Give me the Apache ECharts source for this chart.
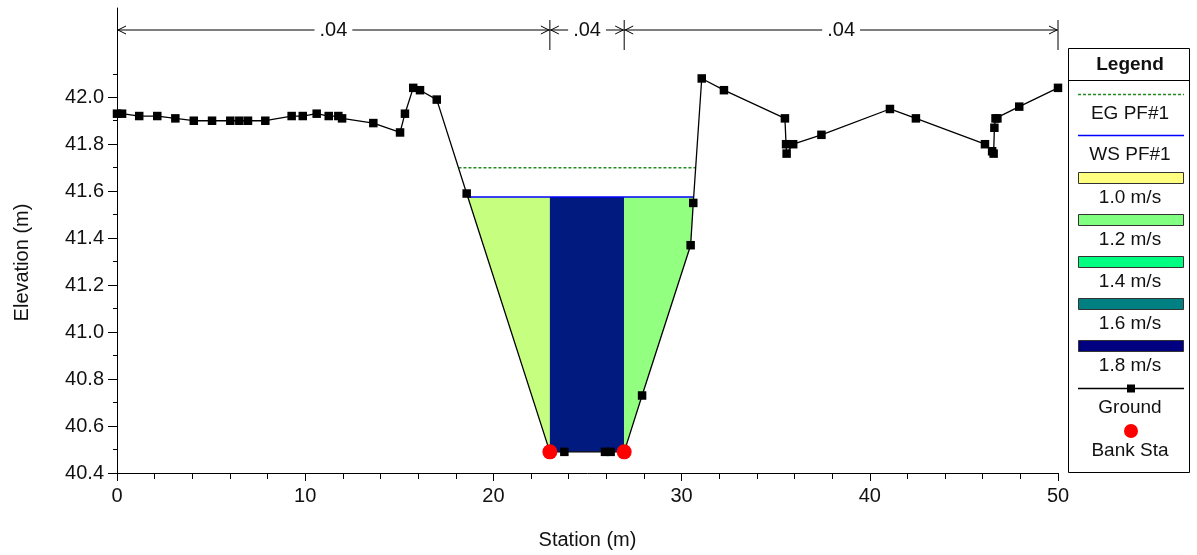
<!DOCTYPE html>
<html>
<head>
<meta charset="utf-8">
<title>Cross Section</title>
<script src="https://cdn.jsdelivr.net/npm/echarts@6/dist/echarts.min.js"></script>
<style>
    html, body {margin: 0; padding: 0; background: #fff;}
    #chart {width: 1197px; height: 555px;}
</style>
</head>
<body>
<div id="chart"></div>
<script>
// ground survey points (station m / elevation m)
var groundX = [0, 0.27, 1.18, 2.14, 3.10, 4.08, 5.05, 6.02, 6.50, 6.96, 7.88, 9.28, 9.87, 10.61, 11.25, 11.76, 11.96,
    13.62, 15.04, 15.30, 15.74, 16.10, 16.99, 18.58, 23.00, 23.77, 25.93, 26.23, 26.95, 27.90, 30.48, 30.62,
    31.07, 32.25, 35.49, 35.55, 35.58, 35.93, 37.43, 41.07, 42.45, 46.12, 46.50, 46.58, 46.62, 46.68, 46.78,
    47.94, 50.00];
var groundY = [41.93, 41.93, 41.92, 41.92, 41.91, 41.90, 41.90, 41.90, 41.90, 41.90, 41.90, 41.92, 41.92, 41.93, 41.92, 41.92, 41.91,
    41.89, 41.85, 41.93, 42.04, 42.03, 41.99, 41.59, 40.49, 40.49, 40.49, 40.49, 40.49, 40.73, 41.37, 41.55,
    42.08, 42.03, 41.91, 41.80, 41.76, 41.80, 41.84, 41.95, 41.91, 41.80, 41.77, 41.76, 41.87, 41.91, 41.91,
    41.96, 42.04];
var bankSta = [23.00, 26.95];
// manning's n change stations and values
var nStations = [0, 23.00, 26.95, 50];
var nValues = ['.04', '.04', '.04'];
var wsElev = 41.575;
var egElev = 41.70;
// mean velocity of each subsection (left overbank, channel, right overbank)
var subVelocity = [1.09, 1.76, 1.17];
var velStops = [1.0, 1.2, 1.4, 1.6, 1.8];
var velLabels = ['1.0 m/s', '1.2 m/s', '1.4 m/s', '1.6 m/s', '1.8 m/s'];
var velColors = ['#ffff80', '#80ff80', '#00ff80', '#008080', '#000080'];
var yMajorTicks = [40.4, 40.6, 40.8, 41.0, 41.2, 41.4, 41.6, 41.8, 42.0];
var yMinorTicks = [40.5, 40.7, 40.9, 41.1, 41.3, 41.5, 41.7, 41.9, 42.1];

var font = "'Liberation Sans', Arial, Helvetica, sans-serif";
var egColor = '#228b22';
var wsColor = '#0000ff';

function groundAt(x) {
    for (var i = 1; i < groundX.length; i++) {
        if (x <= groundX[i]) {
            var t = (x - groundX[i - 1]) / (groundX[i] - groundX[i - 1]);
            return groundY[i - 1] + t * (groundY[i] - groundY[i - 1]);
        }
    }
    return groundY[groundY.length - 1];
}

//水面与地面的交点
function waterExtent(level) {
    var imin = 0;
    for (var i = 1; i < groundY.length; i++) {
        if (groundY[i] < groundY[imin]) imin = i;
    }
    var l = imin, r = imin;
    while (l > 0 && groundY[l - 1] <= level) l--;
    while (r < groundY.length - 1 && groundY[r + 1] <= level) r++;
    var xl = groundX[l], xr = groundX[r];
    if (l > 0) {
        xl = groundX[l - 1] + (level - groundY[l - 1]) / (groundY[l] - groundY[l - 1]) * (groundX[l] - groundX[l - 1]);
    }
    if (r < groundY.length - 1) {
        xr = groundX[r] + (level - groundY[r]) / (groundY[r + 1] - groundY[r]) * (groundX[r + 1] - groundX[r]);
    }
    return [xl, xr];
}

// wet area of a subsection below the water surface
function wetPolygon(a, b, level) {
    var pts = [[a, groundAt(a)]];
    for (var i = 0; i < groundX.length; i++) {
        if (groundX[i] > a && groundX[i] < b) pts.push([groundX[i], groundY[i]]);
    }
    pts.push([b, groundAt(b)]);
    var bottom = [];
    for (var j = 0; j < pts.length; j++) {
        var p = pts[j];
        if (j > 0) {
            var q = pts[j - 1];
            if ((q[1] - level) * (p[1] - level) < 0) {
                var t = (level - q[1]) / (p[1] - q[1]);
                bottom.push([q[0] + t * (p[0] - q[0]), level]);
            }
        }
        if (p[1] <= level) bottom.push(p);
    }
    if (!bottom.length) return [];
    return bottom.concat([[bottom[bottom.length - 1][0], level], [bottom[0][0], level]]);
}

function velColor(v) {
    var k = 0;
    while (k < velStops.length - 2 && v > velStops[k + 1]) k++;
    var t = Math.max(0, Math.min(1, (v - velStops[k]) / (velStops[k + 1] - velStops[k])));
    var c0 = echarts.color.parse(velColors[k]), c1 = echarts.color.parse(velColors[k + 1]);
    var c = [0, 1, 2].map(function (n) { return Math.round(c0[n] + t * (c1[n] - c0[n])); });
    return 'rgb(' + c.join(',') + ')';
}

function bankStaBounds(s) {
    var edges = [groundX[0]].concat(bankSta).concat([groundX[groundX.length - 1]]);
    return [edges[s], edges[s + 1]];
}

var wsExt = waterExtent(wsElev);
var egExt = waterExtent(egElev);

var subData = [];
for (var s = 0; s < subVelocity.length; s++) {
    subData.push([bankStaBounds(s)[0], bankStaBounds(s)[1], subVelocity[s]]);
}

var nData = [];
for (var n = 0; n < nValues.length; n++) {
    nData.push([nStations[n], nStations[n + 1]]);
}

function renderFlow(params, api) {
    var poly = wetPolygon(api.value(0), api.value(1), wsElev);
    if (!poly.length) return;
    return {
        type: 'polygon',
        shape: {points: poly.map(function (p) { return api.coord(p); })},
        style: {fill: velColor(api.value(2)), stroke: null}
    };
}

function renderN(params, api) {
    var a = api.coord([api.value(0), wsElev])[0];
    var b = api.coord([api.value(1), wsElev])[0];
    var top = params.coordSys.y;
    var yp = top + 22;
    var st = {stroke: '#000', lineWidth: 1, fill: null};
    return {
        type: 'group',
        children: [
            {type: 'line', shape: {x1: a, y1: yp, x2: b, y2: yp}, style: st},
            {type: 'polyline', shape: {points: [[a + 9, yp - 4], [a + 1, yp], [a + 9, yp + 4]]}, style: st},
            {type: 'polyline', shape: {points: [[b - 9, yp - 4], [b - 1, yp], [b - 9, yp + 4]]}, style: st},
            {type: 'line', shape: {x1: b, y1: top + 12, x2: b, y2: top + 42}, style: st},
            {type: 'text', x: (a + b) / 2, y: yp, style: {
                text: nValues[params.dataIndex], fontSize: 20, fontFamily: font, fill: '#111',
                align: 'center', verticalAlign: 'middle', backgroundColor: '#fff', padding: [0, 5]
            }}
        ]
    };
}

//图例
function legendText(str, y, bold) {
    return {type: 'text', x: 1130, y: y, style: {
        text: str, fontSize: 19, fontFamily: font, fill: '#111', fontWeight: bold ? 'bold' : 'normal',
        align: 'center', verticalAlign: 'middle'
    }};
}
var legendEls = [
    {type: 'rect', shape: {x: 1068.5, y: 48.5, width: 121, height: 424}, style: {fill: '#fff', stroke: '#000', lineWidth: 1}},
    legendText('Legend', 65, true),
    {type: 'line', shape: {x1: 1068, y1: 80.5, x2: 1190, y2: 80.5}, style: {stroke: '#000', lineWidth: 1}},
    {type: 'line', shape: {x1: 1078, y1: 94.5, x2: 1184, y2: 94.5}, style: {stroke: egColor, lineWidth: 1.3, lineDash: [3, 2]}},
    legendText('EG PF#1', 114),
    {type: 'line', shape: {x1: 1078, y1: 135.5, x2: 1184, y2: 135.5}, style: {stroke: wsColor, lineWidth: 1.3}},
    legendText('WS PF#1', 155)
];
for (var k = 0; k < velLabels.length; k++) {
    legendEls.push({type: 'rect', shape: {x: 1078.5, y: 172.5 + 42 * k, width: 105, height: 11},
        style: {fill: velColors[k], stroke: '#333', lineWidth: 1}});
    legendEls.push(legendText(velLabels[k], 198 + 42 * k));
}
legendEls.push({type: 'line', shape: {x1: 1078, y1: 388.5, x2: 1184, y2: 388.5}, style: {stroke: '#000', lineWidth: 1.3}});
legendEls.push({type: 'rect', shape: {x: 1127, y: 384.5, width: 8, height: 8}, style: {fill: '#000'}});
legendEls.push(legendText('Ground', 408));
legendEls.push({type: 'circle', shape: {cx: 1131, cy: 431, r: 7}, style: {fill: '#ff0000'}});
legendEls.push(legendText('Bank Sta', 451));

var myChart = echarts.init(document.getElementById('chart'));
var option = {
    animation: false,
    grid: {left: 117, right: 139, top: 8, bottom: 82},
    xAxis: {
        type: 'value',
        min: 0,
        max: 50,
        interval: 10,
        name: 'Station (m)',
        nameLocation: 'middle',
        nameGap: 57,
        nameTextStyle: {fontSize: 20, color: '#111', fontFamily: font},
        axisLine: {show: true, onZero: false, lineStyle: {color: '#000', width: 1}},
        axisTick: {show: true, length: 8, lineStyle: {color: '#000'}},
        minorTick: {show: true, splitNumber: 5, length: 6, lineStyle: {color: '#000'}},
        axisLabel: {fontSize: 20, color: '#111', fontFamily: font, margin: 13},
        splitLine: {show: false}
    },
    yAxis: [
        {
            type: 'value',
            min: 40.4,
            max: 42.38,
            position: 'left',
            name: 'Elevation (m)',
            nameLocation: 'middle',
            nameGap: 85,
            nameRotate: 90,
            nameTextStyle: {fontSize: 20, color: '#111', fontFamily: font, padding: [0, 44, 0, 0]},
            axisLine: {show: true, lineStyle: {color: '#000', width: 1}},
            axisTick: {show: true, length: 9, customValues: yMajorTicks, lineStyle: {color: '#000'}},
            axisLabel: {
                customValues: yMajorTicks, fontSize: 20, color: '#111', fontFamily: font, margin: 13,
                formatter: function (v) { return v.toFixed(1); }
            },
            splitLine: {show: false}
        },
        {
            type: 'value',
            min: 40.4,
            max: 42.38,
            position: 'left',
            axisLine: {show: false},
            axisTick: {show: true, length: 4, customValues: yMinorTicks, lineStyle: {color: '#000'}},
            axisLabel: {show: false},
            splitLine: {show: false}
        }
    ],
    graphic: legendEls,
    series: [
        {
            name: 'flow',
            type: 'custom',
            renderItem: renderFlow,
            encode: {x: [0, 1]},
            data: subData,
            z: 1
        },
        {
            name: 'EG PF#1',
            type: 'line',
            symbol: 'none',
            data: [[egExt[0], egElev], [egExt[1], egElev]],
            lineStyle: {color: egColor, width: 1.5, type: [3, 2]},
            z: 2
        },
        {
            name: 'WS PF#1',
            type: 'line',
            symbol: 'none',
            data: [[wsExt[0], wsElev], [wsExt[1], wsElev]],
            lineStyle: {color: wsColor, width: 1.5},
            z: 2
        },
        {
            name: 'Ground',
            type: 'line',
            symbol: 'rect',
            symbolSize: 8.5,
            showSymbol: true,
            data: groundX.map(function (x, i) { return [x, groundY[i]]; }),
            itemStyle: {color: '#000'},
            lineStyle: {color: '#000', width: 1.3},
            z: 3
        },
        {
            name: 'Bank Sta',
            type: 'scatter',
            symbol: 'circle',
            symbolSize: 15,
            data: bankSta.map(function (x) { return [x, groundAt(x)]; }),
            itemStyle: {color: '#ff0000', opacity: 1},
            z: 4
        },
        {
            name: 'n',
            type: 'custom',
            renderItem: renderN,
            encode: {x: [0, 1]},
            data: nData,
            z: 5
        }
    ]
};
myChart.setOption(option);
</script>
</body>
</html>
